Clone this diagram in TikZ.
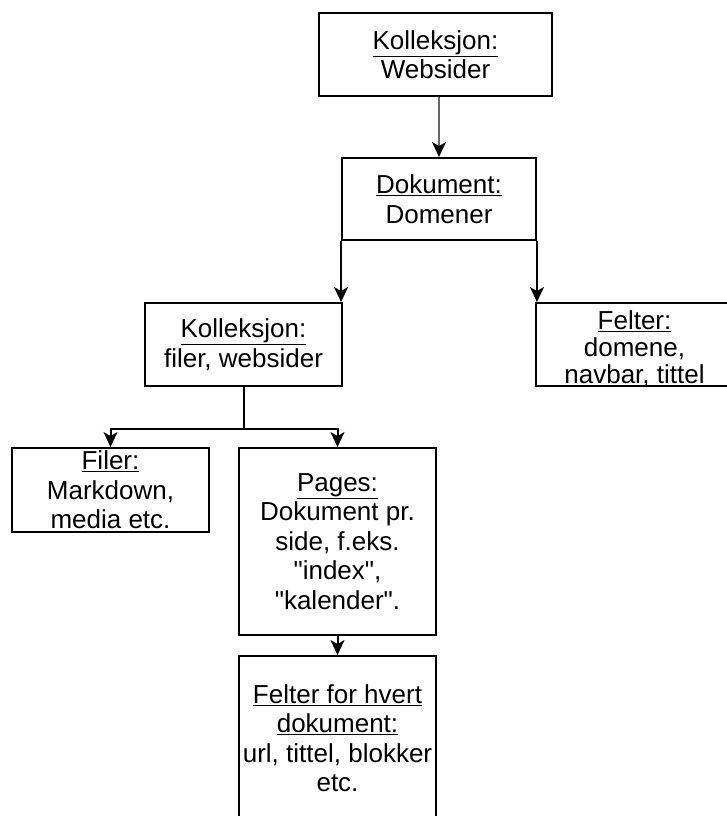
\documentclass[tikz,border=0pt]{standalone}
\usepackage{fontspec}
\setmainfont{Liberation Sans}
\usetikzlibrary{arrows.meta}
\tikzset{
  box/.style={draw=black, line width=1.9pt, fill=white, inner sep=0pt, align=center,
    font=\fontsize{26pt}{29.5pt}\selectfont},
  txt/.style={inner sep=0pt, align=center, font=\fontsize{26pt}{27pt}\selectfont},
  conn/.style={draw=black, line width=2pt, -{Stealth[length=15pt,width=14pt,inset=4pt,black]}},
}
\begin{document}
\begin{tikzpicture}[x=1pt,y=-1pt]
\useasboundingbox (0,0) rectangle (727,816);
\begin{scope}
\clip (0,0) rectangle (727,816);
\node[box, minimum width=233pt, minimum height=83pt] (A) at (435.5,54.5) {\underline{Kolleksjon:}\\Websider};
\node[box, minimum width=194pt, minimum height=82pt] (D) at (439,199) {\underline{Dokument:}\\Domener};
\node[box, minimum width=197pt, minimum height=83pt] (K) at (243.5,344.5) {\underline{Kolleksjon:}\\filer, websider};
\node[box, minimum width=197pt, minimum height=83pt] (F) at (634.5,344.5) {};
\node[txt] (Ft) at (634.5,349) {\underline{Felter:}\\domene,\\navbar, tittel};
\node[box, minimum width=197pt, minimum height=84pt] (Fi) at (110.5,490) {\underline{Filer:}\\Markdown,\\media etc.};
\node[box, minimum width=197pt, minimum height=187pt] (P) at (337.5,541.5) {\underline{Pages:}\\Dokument pr.\\side, f.eks.\\\textquotedbl index\textquotedbl,\\\textquotedbl kalender\textquotedbl.};
\node[box, minimum width=197pt, minimum height=164pt] (FH) at (337.5,738) {\underline{Felter for hvert}\\\underline{dokument:}\\url, tittel, blokker\\etc.};

\draw[conn, draw=black!60] (D.north |- A.south) -- (D.north);
\draw[conn] (D.south west) -- (D.south west |- K.north);
\draw[conn] (D.south east) -- (D.south east |- F.north);
\draw[conn] (K.south) -- ++(0,42) -| (Fi.north);
\draw[conn] (K.south) -- ++(0,42) -| (P.north);
\draw[conn] (P.south) -- (FH.north);
\end{scope}
\end{tikzpicture}
\end{document}
